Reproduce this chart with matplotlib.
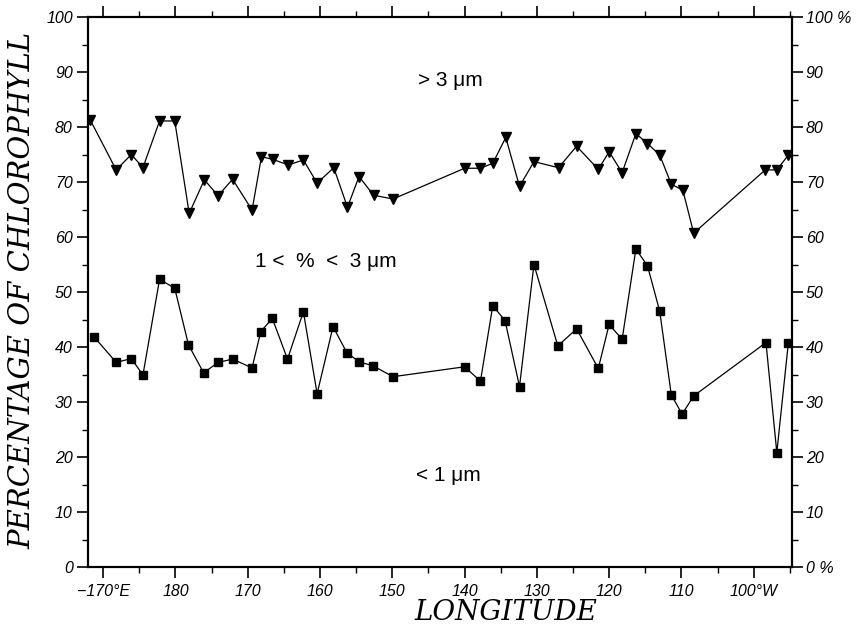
import numpy as np
import matplotlib.pyplot as plt
from matplotlib.ticker import MultipleLocator

# longitude expressed as degrees east (190 = 170W, 260 = 100W)
lon_big = [168.2, 171.8, 173.9, 175.5, 177.8, 179.9, 181.9, 184.0, 185.9, 187.9,
           190.6, 191.9, 193.5, 195.6, 197.7, 199.6, 201.9, 203.8, 205.4, 207.4,
           210.1, 220.0, 222.2, 223.9, 225.7, 227.6, 229.6, 233.0, 235.5, 238.5,
           240.0, 241.8, 243.7, 245.3, 247.0, 248.6, 250.2, 251.7, 261.6, 263.2,
           264.8]
pct_big = [81.3, 72.2, 75.0, 72.6, 81.1, 81.1, 64.3, 70.4, 67.5, 70.5,
           64.9, 74.6, 74.1, 73.1, 74.0, 69.8, 72.6, 65.4, 71.0, 67.6,
           66.9, 72.5, 72.5, 73.4, 78.1, 69.2, 73.7, 72.6, 76.5, 72.3,
           75.5, 71.7, 78.8, 77.0, 74.9, 69.6, 68.5, 60.7, 72.2, 72.2,
           74.9]

lon_small = [168.7, 171.8, 173.9, 175.5, 177.8, 179.9, 181.8, 183.9, 185.9, 187.9,
             190.6, 191.8, 193.4, 195.5, 197.7, 199.6, 201.8, 203.7, 205.4, 207.3,
             210.1, 220.0, 222.2, 223.9, 225.6, 227.6, 229.6, 232.9, 235.5, 238.5,
             240.0, 241.8, 243.7, 245.3, 247.0, 248.6, 250.1, 251.7, 261.7, 263.2,
             264.8]
pct_small = [41.9, 37.2, 37.9, 34.9, 52.3, 50.7, 40.4, 35.3, 37.2, 37.8,
             36.2, 42.8, 45.2, 37.8, 46.4, 31.5, 43.7, 39.0, 37.3, 36.6,
             34.6, 36.4, 33.8, 47.5, 44.8, 32.8, 55.0, 40.2, 43.3, 36.1,
             44.1, 41.4, 57.8, 54.8, 46.5, 31.3, 27.8, 31.1, 40.8, 20.8,
             40.8]

xtick_pos = [170, 180, 190, 200, 210, 220, 230, 240, 250, 260]
xtick_labels = ["\u2212170\u00b0E", "180", "170", "160", "150", "140", "130", "120", "110", "100\u00b0W"]
ytick_pos = [0, 10, 20, 30, 40, 50, 60, 70, 80, 90, 100]
ytick_labels_right = ["0 %", "10", "20", "30", "40", "50", "60", "70", "80", "90", "100 %"]

tickfont = {"family": "Liberation Sans", "style": "italic", "size": 11.5}
labelfont = {"family": "DejaVu Serif", "style": "italic", "size": 21}

fig = plt.figure(figsize=(8.65, 6.3), dpi=100)
ax = fig.add_axes([88 / 865, 63 / 630, 704 / 865, 550 / 630])

ax.plot(lon_big, pct_big, color="black", lw=0.9, marker="v", ms=7, mfc="black", mec="black")
ax.plot(lon_small, pct_small, color="black", lw=0.9, marker="s", ms=5.5, mfc="black", mec="black")

ax.set_xlim(167.9, 265.3)
ax.set_ylim(0, 100)

ax.set_xticks(xtick_pos)
ax.set_xticklabels(xtick_labels, fontdict=tickfont)
ax.xaxis.set_minor_locator(MultipleLocator(5))
ax.set_yticks(ytick_pos)
ax.set_yticklabels([str(v) for v in ytick_pos], fontdict=tickfont)
ax.yaxis.set_minor_locator(MultipleLocator(5))

ax.tick_params(which="major", direction="out", length=8, width=1.2, top=True, pad=3)
ax.tick_params(which="minor", direction="out", length=4, width=1, top=True)
ax.tick_params(axis="x", which="major", pad=4)

ax2 = ax.twinx()
ax2.set_ylim(0, 100)
ax2.set_yticks(ytick_pos)
ax2.set_yticklabels(ytick_labels_right, fontdict=tickfont)
ax2.yaxis.set_minor_locator(MultipleLocator(5))
ax2.tick_params(which="major", direction="out", length=8, width=1.2, pad=2)
ax2.tick_params(which="minor", direction="out", length=4, width=1)

for a in (ax, ax2):
    for s in a.spines.values():
        s.set_linewidth(1.5)

annot = {"family": "Liberation Sans", "size": 15, "ha": "center", "va": "center"}
ax.text(218.0, 88.5, "> 3 \u03bcm", **annot)
ax.text(200.8, 55.5, "1 <  %  <  3 \u03bcm", **annot)
ax.text(217.7, 16.7, "< 1 \u03bcm", **annot)

fig.text(22 / 865, 1 - 290 / 630, "PERCENTAGE OF CHLOROPHYLL", rotation=90,
         ha="center", va="center", **labelfont)
fig.text(506 / 865, 1 - 599 / 630, "LONGITUDE", ha="center", va="top",
         family="DejaVu Serif", style="italic", size=20)

fig.savefig("out.png", dpi=100)
